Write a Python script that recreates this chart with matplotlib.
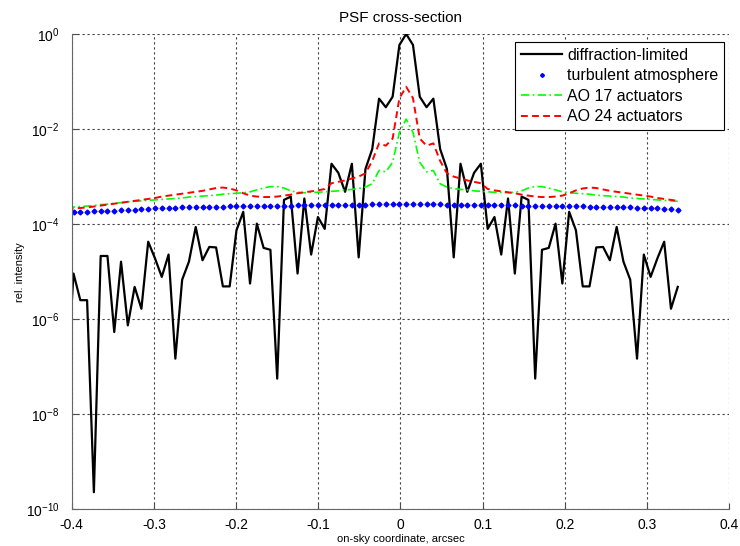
import matplotlib
matplotlib.use("Agg")
import matplotlib.pyplot as plt
import numpy as np

plt.rcParams['font.family'] = ['Liberation Sans', 'DejaVu Sans']
plt.rcParams['mathtext.fontset'] = 'custom'
plt.rcParams['mathtext.rm'] = 'Liberation Sans'

# sampling of the cross-section (arcsec), first sample lies left of the axis
x0 = -0.3978
dx = 0.00826
n_samples = 91

# log10 of relative intensity
diffraction = [-7.4,
    -5.04, -5.6, -5.6, -9.64, -4.67, -4.67, -6.27, -4.79, -6.13, -5.32,
    -5.78, -4.37, -4.72, -5.11, -4.64, -6.83, -5.17, -4.79, -4.06, -4.76,
    -4.48, -4.49, -5.31, -5.31, -4.13, -3.74, -5.25, -3.99, -4.5, -4.54,
    -7.25, -3.49, -3.42, -5.04, -3.46, -4.64, -3.85, -4.1, -2.73, -2.92,
    -3.32, -2.73, -4.7, -2.84, -2.42, -1.36, -1.54, -1.32, -0.23, 0.0,
    -0.23, -1.32, -1.54, -1.36, -2.42, -2.84, -4.7, -2.73, -3.32, -2.92,
    -2.73, -4.1, -3.85, -4.64, -3.46, -5.04, -3.42, -3.49, -7.25, -4.54,
    -4.5, -3.99, -5.25, -3.74, -4.13, -5.31, -5.31, -4.49, -4.48, -4.76,
    -4.06, -4.79, -5.17, -6.83, -4.64, -5.11, -4.72, -4.37, -5.78, -5.32]

turbulent = [
    -3.745, -3.74, -3.74, -3.735, -3.73, -3.725, -3.72, -3.715, -3.71, -3.705,
    -3.70, -3.69, -3.68, -3.67, -3.665, -3.66, -3.655, -3.65, -3.645, -3.64,
    -3.64, -3.635, -3.63, -3.63, -3.625, -3.62, -3.62, -3.62, -3.615, -3.615,
    -3.615, -3.61, -3.61, -3.61, -3.605, -3.605, -3.60, -3.60, -3.60, -3.595,
    -3.595, -3.59, -3.59, -3.59, -3.59, -3.585, -3.585, -3.58, -3.58, -3.58,
    -3.58,
    -3.58, -3.58, -3.58, -3.585, -3.585, -3.59, -3.59, -3.59, -3.59, -3.595,
    -3.595, -3.60, -3.60, -3.60, -3.605, -3.605, -3.61, -3.61, -3.61, -3.615,
    -3.615, -3.615, -3.62, -3.62, -3.62, -3.625, -3.63, -3.63, -3.635, -3.64,
    -3.64, -3.645, -3.65, -3.655, -3.66, -3.665, -3.67, -3.68, -3.69, -3.70]

ao17 = [
    -3.65, -3.64, -3.63, -3.62, -3.61, -3.59, -3.58, -3.56, -3.55, -3.53,
    -3.52, -3.51, -3.50, -3.49, -3.48, -3.47, -3.46, -3.45, -3.43, -3.42,
    -3.41, -3.40, -3.39, -3.37, -3.36, -3.35, -3.34, -3.32, -3.28, -3.24,
    -3.21, -3.21, -3.24, -3.30, -3.33, -3.34, -3.33, -3.33, -3.32, -3.31,
    -3.30, -3.28, -3.27, -3.25, -3.22, -3.15, -2.87, -2.90, -2.70, -2.07,
    -1.79,
    -2.07, -2.70, -2.90, -2.87, -3.15, -3.22, -3.25, -3.27, -3.28, -3.30,
    -3.31, -3.32, -3.33, -3.33, -3.34, -3.33, -3.30, -3.24, -3.21, -3.21,
    -3.24, -3.28, -3.32, -3.34, -3.35, -3.36, -3.37, -3.39, -3.40, -3.41,
    -3.42, -3.43, -3.45, -3.46, -3.47, -3.48, -3.49, -3.50, -3.51, -3.52]

ao24 = [
    -3.68, -3.67, -3.66, -3.65, -3.63, -3.61, -3.59, -3.57, -3.55, -3.53,
    -3.51, -3.49, -3.47, -3.45, -3.42, -3.40, -3.38, -3.36, -3.34, -3.32,
    -3.30, -3.27, -3.24, -3.23, -3.25, -3.29, -3.35, -3.40, -3.42, -3.43,
    -3.43, -3.42, -3.40, -3.38, -3.35, -3.33, -3.31, -3.29, -3.26, -3.14,
    -3.11, -3.08, -3.04, -3.00, -2.93, -2.67, -2.30, -2.35, -2.20, -1.35,
    -1.11,
    -1.35, -2.20, -2.35, -2.30, -2.67, -2.93, -3.00, -3.04, -3.08, -3.11,
    -3.14, -3.26, -3.29, -3.31, -3.33, -3.35, -3.38, -3.40, -3.42, -3.43,
    -3.43, -3.42, -3.40, -3.35, -3.29, -3.25, -3.23, -3.24, -3.27, -3.30,
    -3.32, -3.34, -3.36, -3.38, -3.40, -3.42, -3.45, -3.47, -3.49, -3.51]

x = x0 + dx * np.arange(-1, n_samples - 1)

fig = plt.figure(figsize=(7.4, 5.46), dpi=100)
ax = fig.add_axes([0.0969, 0.0672, 0.8886, 0.8705])

ax.semilogy(x, 10.0 ** np.array(diffraction), color='black', lw=1.6,
            label='diffraction-limited')
ax.semilogy(x[1:], 10.0 ** np.array(turbulent[1:]), ls='none', marker='D',
            ms=2.5, color='blue', label='turbulent atmosphere')
ax.semilogy(x, 10.0 ** np.array(ao17), color='#00ff00', lw=1.2,
            ls=(0, (5, 2, 1, 2)), label='AO 17 actuators')
ax.semilogy(x, 10.0 ** np.array(ao24), color='red', lw=1.4,
            ls=(0, (3.5, 2.2)), label='AO 24 actuators')

ax.set_xlim(-0.4, 0.4)
ax.set_ylim(1e-10, 1e0)
ax.set_xticks(np.arange(-0.4, 0.41, 0.1))
ax.set_xticklabels(['-0.4', '-0.3', '-0.2', '-0.1', '0', '0.1', '0.2', '0.3', '0.4'])
ax.set_yticks([1e-10, 1e-8, 1e-6, 1e-4, 1e-2, 1e0])
ax.set_yticklabels([r'$10^{-10}$', r'$10^{-8}$', r'$10^{-6}$',
                    r'$10^{-4}$', r'$10^{-2}$', r'$10^{0}$'])
ax.minorticks_off()
ax.tick_params(direction='in', labelsize=10, length=4, color='0.3')
ax.tick_params(axis='x', pad=6)
ax.tick_params(axis='y', pad=9)

ax.grid(True, which='major', color='0.25', ls=(0, (2, 2.5)), lw=0.8)
for s in ['top', 'right']:
    ax.spines[s].set_visible(False)
for s in ['left', 'bottom']:
    ax.spines[s].set_color('0.4')

ax.set_title('PSF cross-section', fontsize=11, pad=9)
ax.set_xlabel('on-sky coordinate, arcsec', fontsize=8, labelpad=2)
ax.set_ylabel('rel. intensity', fontsize=8, labelpad=0.5)

leg = ax.legend(loc='upper right', fontsize=11.5, frameon=True, fancybox=False,
                edgecolor='black', framealpha=1, borderaxespad=0,
                handlelength=2.6, labelspacing=0.35, handletextpad=0.3,
                borderpad=0.35, markerscale=0.8,
                bbox_to_anchor=(0.992, 0.983))
leg.get_frame().set_linewidth(0.8)

fig.savefig('out.png', dpi=100)
